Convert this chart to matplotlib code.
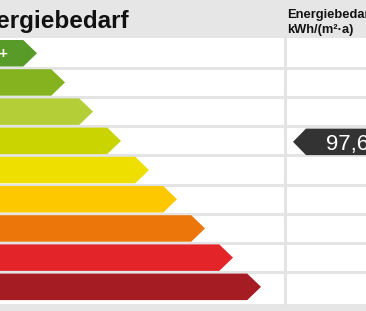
import matplotlib
matplotlib.use("Agg")
import matplotlib.pyplot as plt

# ---- data ----
classes = ["A+", "A", "B", "C", "D", "E", "F", "G", "H"]
class_colors = ["#589b28", "#85b31f", "#b4ce38", "#c9d400", "#eedf00",
                "#fdc800", "#ec760a", "#e3252a", "#a51c23"]
bar_tips = [37, 65, 93, 121, 149, 177, 205, 233, 261]   # arrow tip per class (px scale)
value = 97.6
value_label = "97,6"
value_class = "C"
title = "Energiebedarf"
unit_header = "Energiebedarf\nkWh/(m²·a)"

W, H = 366, 311
fig = plt.figure(figsize=(W / 100, H / 100), dpi=100)
ax = fig.add_axes([0, 0, 1, 1])
ax.set_xlim(0, W)
ax.set_ylim(H, 0)
ax.axis("off")

plt.rcParams["font.family"] = ["Liberation Sans", "DejaVu Sans"]

row0, pitch, bar_h = 40.0, 29.2, 26.5
grid_col = "#e4e4e4"

# header and footer bands
ax.axhspan(0, 38, color="#e6e6e6", lw=0, zorder=0)
ax.axhspan(304, H, color="#e6e6e6", lw=0, zorder=0)

# separators
for i in range(1, len(classes)):
    y = row0 + i * pitch - (pitch - bar_h) / 2
    ax.axhline(y, color=grid_col, lw=2.2, zorder=1)
ax.plot([284.5, 284.5], [38, 304], color=grid_col, lw=2.2, zorder=1)

# class arrows
for i, (c, col, tip) in enumerate(zip(classes, class_colors, bar_tips)):
    top = row0 + i * pitch
    bot = top + bar_h
    mid = (top + bot) / 2
    body = tip - bar_h / 2 - 0.5
    ax.fill([-40, body, tip, body, -40], [top, top, mid, bot, bot],
            color=col, lw=0, zorder=2)
    ax.text(-11.5, mid + 0.5, c, ha="left", va="center", color="white",
            fontsize=11, fontweight="bold", zorder=3)

# value marker
vi = classes.index(value_class)
top = row0 + vi * pitch + 1
bot = top + bar_h
mid = (top + bot) / 2
mtip = 293
ax.fill([W + 40, mtip + 13, mtip, mtip + 13, W + 40], [top, top, mid, bot, bot],
        color="#333333", lw=0, zorder=4)
ax.text(326, mid + 8, value_label, ha="left", va="baseline", color="white",
        fontsize=16, zorder=5)

# headers
ax.text(129, 28, title, ha="right", va="baseline", color="#111111",
        fontsize=17.5, fontweight="bold")
ax.text(287, 32.5, unit_header, ha="left", va="baseline", color="#111111",
        fontsize=9.3, fontweight="bold", linespacing=1.3)

fig.savefig("out.png", dpi=100)
